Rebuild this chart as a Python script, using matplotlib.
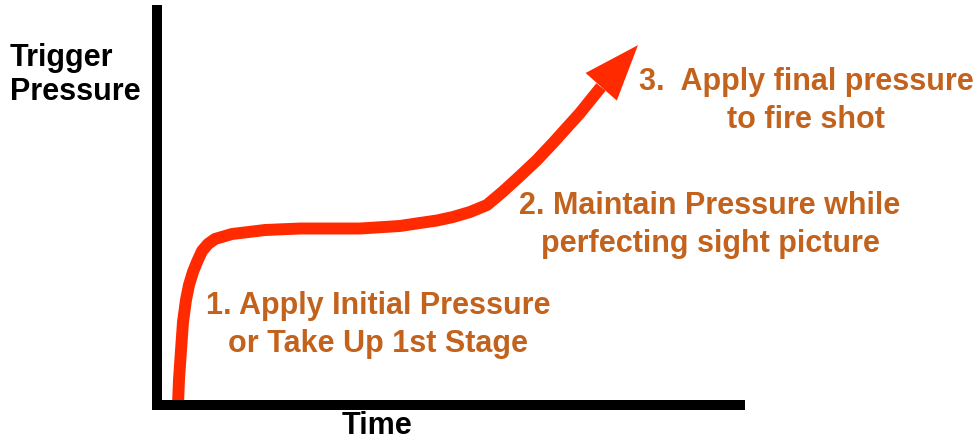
import matplotlib.pyplot as plt

# curve: time (0-100) vs trigger pressure (0-100)
time = [3.60, 3.77, 4.12, 4.46, 4.97, 5.49, 6.17, 6.86, 7.72, 8.75, 9.95,
        12.86, 18.52, 24.53, 34.82, 41.68, 45.11, 48.03, 50.77, 53.69,
        56.60, 59.35, 62.26, 65.18, 67.92, 72.56, 76.16]
pressure = [0.0, 6.33, 13.92, 21.01, 26.58, 30.38, 33.67, 36.20, 38.99,
            40.76, 42.03, 43.29, 44.30, 44.68, 44.68, 45.32, 46.08, 46.71,
            47.59, 48.86, 50.63, 54.05, 57.97, 62.03, 66.33, 73.92, 80.51]
arrow_tip = (82.5, 91.1)

labels = [
    "1. Apply Initial Pressure\nor Take Up 1st Stage",
    "2. Maintain Pressure while\nperfecting sight picture",
    "3.  Apply final pressure\nto fire shot",
]
label_px = [(378, 352), (710, 252), (806, 128)]  # centre x, last baseline (pixels)

W, H = 979, 441
RED = "#ff2a00"
ORANGE = "#c2621c"
plt.rcParams['font.family'] = ['Liberation Sans', 'DejaVu Sans']

fig = plt.figure(figsize=(W / 100, H / 100), dpi=100)
ax = fig.add_axes([157 / W, (H - 405) / H, 583 / W, 395 / H])
ax.set_xlim(0, 100)
ax.set_ylim(0, 100)
ax.set_xticks([])
ax.set_yticks([])
for side in ["top", "right"]:
    ax.spines[side].set_visible(False)
for side in ["left", "bottom"]:
    ax.spines[side].set_linewidth(7.2)
    ax.spines[side].set_zorder(5)

ax.plot(time, pressure, color=RED, lw=8.6, solid_capstyle="butt",
        solid_joinstyle="round", clip_on=False, zorder=3)
ax.annotate("", xy=arrow_tip, xytext=(time[-1], pressure[-1]),
            arrowprops=dict(arrowstyle="-|>,head_length=2.0,head_width=0.75",
                            mutation_scale=20, color=RED, lw=0,
                            shrinkA=0, shrinkB=0), zorder=4)

def px(x, y):
    return x / W, 1 - y / H

fig.text(*px(10, 100), "Trigger\nPressure", fontsize=22, fontweight="bold",
         ha="left", va="baseline", linespacing=1.18)
fig.text(*px(377, 441), "Time", fontsize=22, fontweight="bold",
         ha="center", va="bottom")

for txt, (x, y) in zip(labels, label_px):
    fig.text(*px(x, y), txt, fontsize=22, fontweight="bold", color=ORANGE,
             ha="center", va="baseline", multialignment="center",
             linespacing=1.35)

fig.savefig("out.png", dpi=100)
